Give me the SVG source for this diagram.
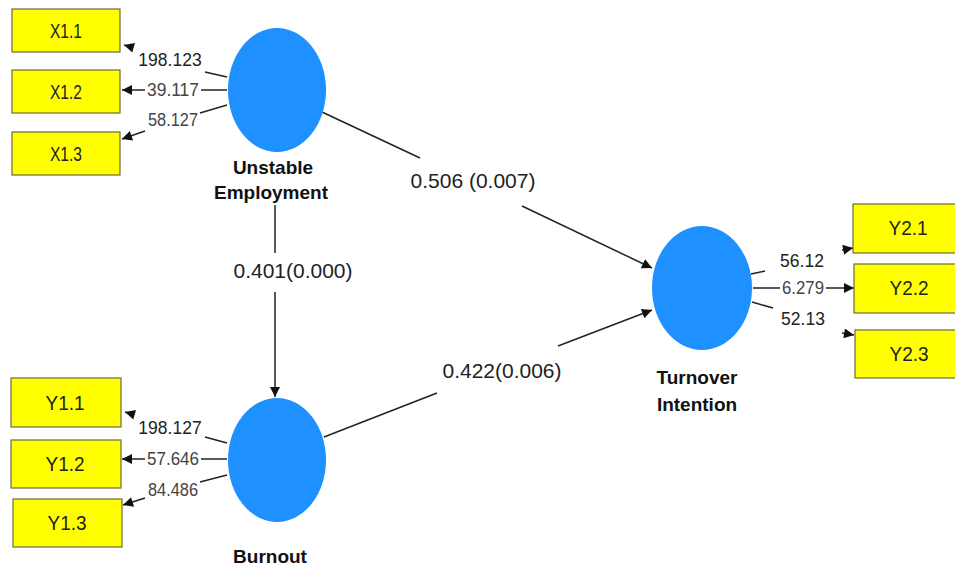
<svg xmlns="http://www.w3.org/2000/svg" width="955" height="568" viewBox="0 0 955 568">
<defs>
<marker id="ah" viewBox="0 0 10 10" refX="10" refY="5" markerWidth="11" markerHeight="10" markerUnits="userSpaceOnUse" orient="auto">
<path d="M0,0 L10,5 L0,10 z" fill="#111"/>
</marker>
<style>
.box{fill:#FFFF00;stroke:#6b6b3a;stroke-width:1.2}
.lat{fill:#1E90FF}
.ind{font-family:"Liberation Sans",Arial,sans-serif;font-size:21px;fill:#222;text-anchor:middle}
.lv{font-family:"Liberation Sans",Arial,sans-serif;font-size:19px;font-weight:bold;fill:#111;text-anchor:middle}
.ld{font-family:"Liberation Sans",Arial,sans-serif;font-size:17.5px;fill:#222;text-anchor:middle}
.ldg{font-family:"Liberation Sans",Arial,sans-serif;font-size:18px;fill:#444;text-anchor:middle}
.pc{font-family:"Liberation Sans",Arial,sans-serif;font-size:21px;fill:#222;text-anchor:middle}
.ln{stroke:#222;stroke-width:1.5;fill:none}
</style>
</defs>
<rect width="955" height="568" fill="#fff"/>
<g id="connectors">
<line class="ln" x1="205" y1="72" x2="227" y2="77"/>
<line class="ln" x1="131" y1="47" x2="124" y2="45" marker-end="url(#ah)"/>
<line class="ln" x1="201" y1="90" x2="227" y2="90"/>
<line class="ln" x1="145" y1="90" x2="122" y2="90" marker-end="url(#ah)"/>
<line class="ln" x1="200" y1="113" x2="227" y2="105"/>
<line class="ln" x1="145" y1="131" x2="122" y2="139" marker-end="url(#ah)"/>
<line class="ln" x1="205" y1="437" x2="227" y2="443"/>
<line class="ln" x1="132" y1="414" x2="125" y2="412" marker-end="url(#ah)"/>
<line class="ln" x1="201" y1="459" x2="227" y2="459"/>
<line class="ln" x1="145" y1="459" x2="122" y2="459" marker-end="url(#ah)"/>
<line class="ln" x1="200" y1="482" x2="227" y2="475"/>
<line class="ln" x1="145" y1="498" x2="123" y2="505" marker-end="url(#ah)"/>
<line class="ln" x1="751" y1="274" x2="765" y2="271"/>
<line class="ln" x1="842" y1="250" x2="853" y2="248" marker-end="url(#ah)"/>
<line class="ln" x1="753" y1="288" x2="780" y2="288"/>
<line class="ln" x1="826" y1="288" x2="854" y2="288" marker-end="url(#ah)"/>
<line class="ln" x1="752" y1="302" x2="773" y2="308"/>
<line class="ln" x1="842" y1="333" x2="854" y2="335" marker-end="url(#ah)"/>
<line class="ln" x1="275" y1="205" x2="275" y2="253"/>
<line class="ln" x1="275" y1="292" x2="275" y2="397" marker-end="url(#ah)"/>
<line class="ln" x1="322" y1="112" x2="420" y2="158"/>
<line class="ln" x1="522" y1="206" x2="652" y2="268" marker-end="url(#ah)"/>
<line class="ln" x1="324" y1="437" x2="437" y2="393"/>
<line class="ln" x1="558" y1="346" x2="652" y2="310" marker-end="url(#ah)"/>
</g>
<g id="UnstableEmployment">
<ellipse class="lat" cx="277" cy="90" rx="49" ry="62"/>
<text class="lv" x="273" y="174">Unstable</text>
<text class="lv" x="271" y="199">Employment</text>
</g>
<g id="Burnout">
<ellipse class="lat" cx="277" cy="460" rx="49" ry="62"/>
<text class="lv" x="270" y="563">Burnout</text>
</g>
<g id="TurnoverIntention">
<ellipse class="lat" cx="702" cy="288" rx="50" ry="62"/>
<text class="lv" x="697" y="384">Turnover</text>
<text class="lv" x="697" y="411">Intention</text>
</g>
<g id="X1.1"><rect class="box" x="12" y="9" width="108" height="43"/><text class="ind" x="66" y="38" textLength="32" lengthAdjust="spacingAndGlyphs">X1.1</text></g>
<g id="X1.2"><rect class="box" x="12" y="70" width="108" height="43"/><text class="ind" x="66" y="99" textLength="32" lengthAdjust="spacingAndGlyphs">X1.2</text></g>
<g id="X1.3"><rect class="box" x="12" y="132" width="108" height="43"/><text class="ind" x="66" y="161" textLength="32" lengthAdjust="spacingAndGlyphs">X1.3</text></g>
<g id="Y1.1"><rect class="box" x="11" y="378" width="110" height="49"/><text class="ind" x="65" y="410" textLength="39" lengthAdjust="spacingAndGlyphs">Y1.1</text></g>
<g id="Y1.2"><rect class="box" x="11" y="440" width="110" height="48"/><text class="ind" x="65" y="471" textLength="39" lengthAdjust="spacingAndGlyphs">Y1.2</text></g>
<g id="Y1.3"><rect class="box" x="13" y="499" width="109" height="48"/><text class="ind" x="67" y="530" textLength="39" lengthAdjust="spacingAndGlyphs">Y1.3</text></g>
<g id="Y2.1"><rect class="box" x="853" y="204" width="112" height="49"/><text class="ind" x="908" y="235" textLength="39" lengthAdjust="spacingAndGlyphs">Y2.1</text></g>
<g id="Y2.2"><rect class="box" x="854" y="264" width="112" height="49"/><text class="ind" x="909" y="295" textLength="39" lengthAdjust="spacingAndGlyphs">Y2.2</text></g>
<g id="Y2.3"><rect class="box" x="855" y="330" width="112" height="48"/><text class="ind" x="909" y="361" textLength="39" lengthAdjust="spacingAndGlyphs">Y2.3</text></g>
<g id="labels">
<text class="ld" x="170" y="66">198.123</text>
<text class="ldg" x="173" y="96" textLength="52" lengthAdjust="spacingAndGlyphs">39.117</text>
<text class="ldg" x="173" y="126" textLength="50" lengthAdjust="spacingAndGlyphs">58.127</text>
<text class="ld" x="170" y="434">198.127</text>
<text class="ldg" x="173" y="465" textLength="52" lengthAdjust="spacingAndGlyphs">57.646</text>
<text class="ldg" x="173" y="496" textLength="50" lengthAdjust="spacingAndGlyphs">84.486</text>
<text class="ld" x="802" y="267">56.12</text>
<text class="ldg" x="803" y="294" textLength="42" lengthAdjust="spacingAndGlyphs">6.279</text>
<text class="ld" x="803" y="325">52.13</text>
<text class="pc" x="293" y="278">0.401(0.000)</text>
<text class="pc" x="473" y="188">0.506 (0.007)</text>
<text class="pc" x="502" y="378">0.422(0.006)</text>
</g>
</svg>
